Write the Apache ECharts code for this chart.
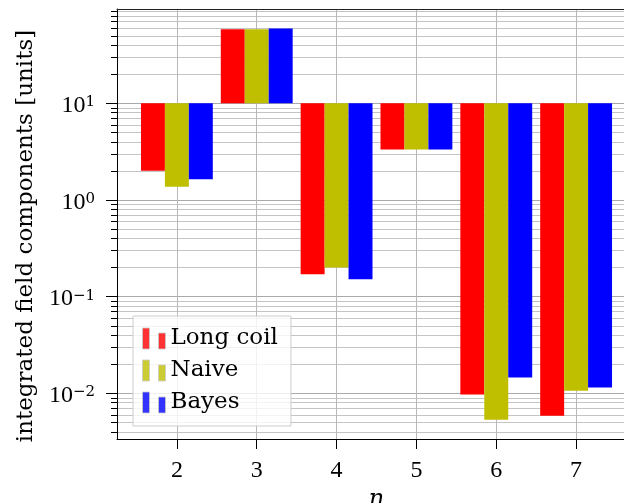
<!DOCTYPE html>
<meta charset="utf-8">
<style>
body { margin: 0; }
#main { width: 624px; height: 503px; }
</style>
<div id="main"></div>
<script src="https://cdn.jsdelivr.net/npm/echarts@6/dist/echarts.min.js"></script>
<script>
var nValues = [2, 3, 4, 5, 6, 7];
var longCoil = [2.01, 58.5, 0.171, 3.33, 0.00975, 0.00586];
var naive = [1.37, 58.5, 0.200, 3.33, 0.00533, 0.01064];
var bayes = [1.64, 59.5, 0.151, 3.33, 0.0146, 0.0115];
var seriesNames = ['Long coil', 'Naive', 'Bayes'];
var seriesColors = ['#ff0000', '#bfbf00', '#0000ff'];
var majorTicks = [0.01, 0.1, 1, 10];

// minor ticks at 2..9 of each decade inside the axis range
var minorTicks = [];
[0.001, 0.01, 0.1, 1, 10].forEach(function (d) {
    for (var k = 2; k <= 9; k++) {
        var v = +(k * d).toPrecision(3);
        if (v > 0.0034 && v < 94) minorTicks.push(v);
    }
});

var BASE = 10;      // bars start from 10^1
var BAR_W = 0.3;    // width of one bar in n units
var FONT = 'DejaVu Serif';
var NUM_FONT = 'Liberation Serif';

function makeSeries(name, values, idx) {
    var offset = (idx - 1) * BAR_W;
    return {
        name: name,
        type: 'custom',
        xAxisIndex: 0,
        yAxisIndex: 0,
        itemStyle: { color: seriesColors[idx] },
        encode: { x: 0, y: 1 },
        data: nValues.map(function (n, i) { return [n + offset, values[i]]; }),
        renderItem: function (params, api) {
            var x = api.value(0);
            var p1 = api.coord([x - BAR_W / 2, api.value(1)]);
            var p0 = api.coord([x + BAR_W / 2, BASE]);
            return {
                type: 'rect',
                shape: {
                    x: p1[0],
                    y: Math.min(p0[1], p1[1]),
                    width: p0[0] - p1[0],
                    height: Math.abs(p0[1] - p1[1])
                },
                style: { fill: api.visual('color') }
            };
        }
    };
}

var chart = echarts.init(document.getElementById('main'));

chart.setOption({
    animation: false,
    grid: {
        show: false,
        left: 117, top: 9, width: 519, height: 430,
        outerBoundsMode: 'none'
    },
    legend: {
        orient: 'vertical',
        left: 133, top: 316,
        padding: [11, 13, 12, 9],
        itemGap: 9,
        itemWidth: 23, itemHeight: 21,
        icon: 'path://M0,0h7v21h-7z M16,5h7v16h-7z',
        backgroundColor: 'rgba(255,255,255,0.8)',
        borderColor: '#cccccc', borderWidth: 1, borderRadius: 0,
        itemStyle: { opacity: 0.8, borderColor: '#c8c8c8', borderWidth: 1 },
        textStyle: { fontFamily: FONT, fontSize: 23, color: '#000' },
        data: seriesNames
    },
    xAxis: [{
        type: 'value',
        min: 1.25, max: 7.75,
        name: 'n',
        nameLocation: 'middle',
        nameGap: 36,
        nameTextStyle: { fontFamily: FONT, fontStyle: 'italic', fontSize: 24, color: '#000' },
        axisLine: { show: true, lineStyle: { color: '#000', width: 1 } },
        axisTick: { show: true, customValues: nValues, length: 10, lineStyle: { color: '#000' } },
        axisLabel: {
            customValues: nValues, margin: 20,
            fontFamily: NUM_FONT, fontSize: 24, color: '#000'
        },
        splitLine: { show: true, lineStyle: { color: '#b8b8b8', width: 1 } }
    }, {
        // top frame line
        type: 'value',
        position: 'top',
        min: 1.25, max: 7.75,
        axisLine: { show: true, lineStyle: { color: '#222', width: 1 } },
        axisTick: { show: false },
        axisLabel: { show: false },
        splitLine: { show: false }
    }],
    yAxis: [{
        type: 'log',
        min: 0.00337, max: 94.6,
        name: 'integrated field components [units]',
        nameLocation: 'middle',
        nameGap: 78,
        nameTextStyle: { fontFamily: FONT, fontSize: 23, color: '#000', padding: [0, 24, 0, 0] },
        axisLine: { show: true, lineStyle: { color: '#000', width: 1 } },
        axisTick: { show: true, customValues: majorTicks, length: 11, lineStyle: { color: '#000' } },
        axisLabel: {
            customValues: majorTicks, margin: 22,
            padding: [5, 0, 0, 0],
            formatter: function (v) {
                var e = Math.round(Math.log10(v));
                return '{b|10}{s|' + (e < 0 ? '\u2212' + (-e) : e) + '}';
            },
            rich: {
                b: { fontFamily: NUM_FONT, fontSize: 24, lineHeight: 22, color: '#000' },
                s: { fontFamily: FONT, fontSize: 15, lineHeight: 16, verticalAlign: 'top', color: '#000' }
            }
        },
        splitLine: { show: true, lineStyle: { color: '#aaaaaa', width: 1 } }
    }, {
        type: 'log',
        min: 0.00337, max: 94.6,
        position: 'left',
        axisLine: { show: false },
        axisTick: { show: true, customValues: minorTicks, length: 6, lineStyle: { color: '#000' } },
        axisLabel: { show: false },
        splitLine: { show: true, lineStyle: { color: '#c4c4c4', width: 1 } }
    }],
    series: [
        makeSeries(seriesNames[0], longCoil, 0),
        makeSeries(seriesNames[1], naive, 1),
        makeSeries(seriesNames[2], bayes, 2)
    ]
});
</script>
